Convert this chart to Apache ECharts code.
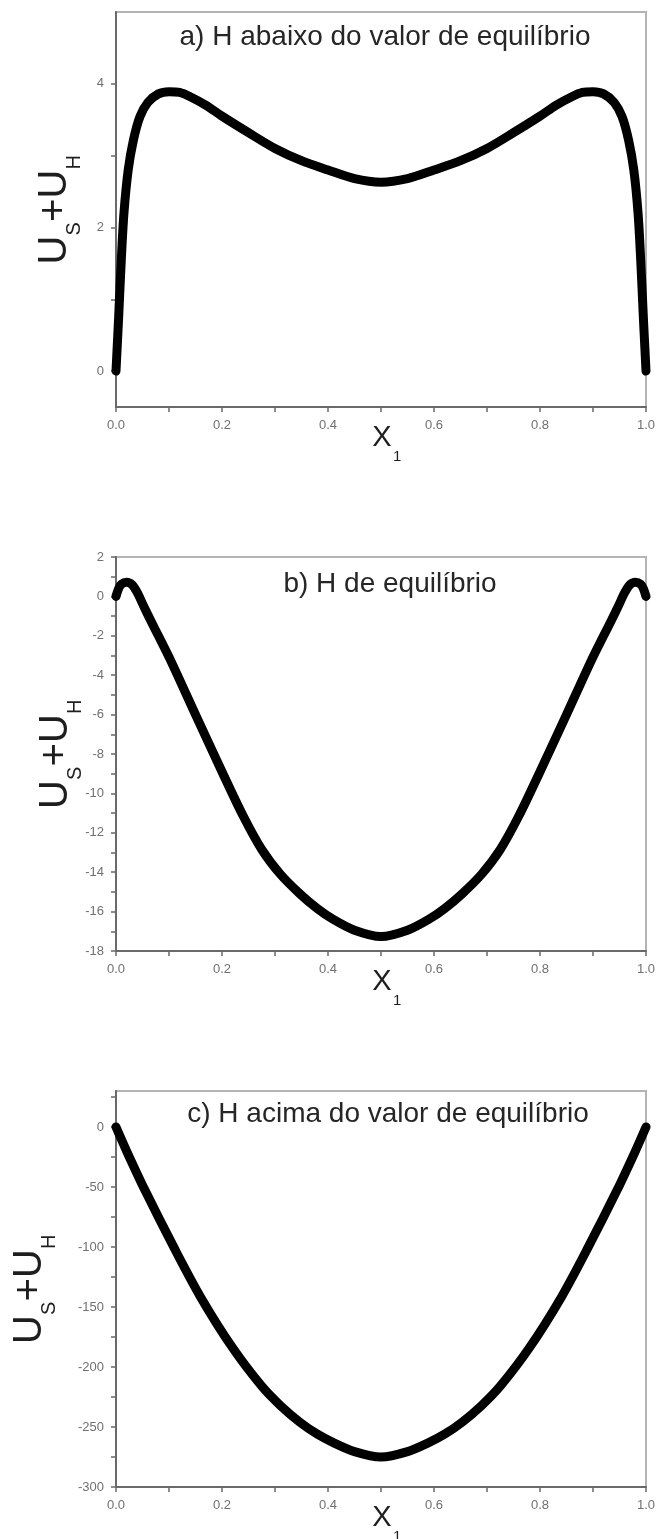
<!DOCTYPE html>
<html>
<head>
<meta charset="utf-8">
<script src="https://cdn.jsdelivr.net/npm/echarts@6/dist/echarts.min.js"></script>
<style>
  html, body { margin: 0; padding: 0; background: #ffffff; }
  #chart { width: 659px; height: 1539px; }
</style>
</head>
<body>
<div id="chart"></div>
<script>
// Panel a) H below the equilibrium value
const xA = [0, 0.002, 0.005, 0.01, 0.015, 0.023, 0.033, 0.045, 0.06, 0.08,
            0.1, 0.12, 0.14, 0.17, 0.2, 0.25, 0.3, 0.35, 0.4, 0.45,
            0.5,
            0.55, 0.6, 0.65, 0.7, 0.75, 0.8, 0.83, 0.86, 0.88, 0.9,
            0.92, 0.94, 0.955, 0.967, 0.977, 0.985, 0.99, 0.995, 0.998, 1];
const yA = [0, 0.3, 0.75, 1.55, 2.2, 2.8, 3.22, 3.54, 3.74, 3.86,
            3.89, 3.88, 3.82, 3.7, 3.55, 3.32, 3.1, 2.93, 2.8, 2.68,
            2.63,
            2.68, 2.8, 2.93, 3.1, 3.32, 3.55, 3.7, 3.82, 3.88, 3.89,
            3.86, 3.74, 3.54, 3.22, 2.8, 2.2, 1.55, 0.75, 0.3, 0];

// Panel b) equilibrium H
const xB = [0, 0.005, 0.01, 0.02, 0.03, 0.04, 0.052, 0.065, 0.08, 0.105,
            0.15, 0.2, 0.24, 0.275, 0.31, 0.347, 0.38, 0.41, 0.45,
            0.5,
            0.55, 0.59, 0.62, 0.653, 0.69, 0.725, 0.76, 0.8, 0.85,
            0.895, 0.92, 0.935, 0.948, 0.96, 0.97, 0.98, 0.99, 0.995, 1];
const yB = [0, 0.4, 0.62, 0.72, 0.6, 0.2, -0.48, -1.2, -2.0, -3.36,
            -6.0, -8.9, -11.15, -12.85, -14.1, -15.1, -15.85, -16.4, -16.95,
            -17.27,
            -16.95, -16.4, -15.85, -15.1, -14.1, -12.85, -11.15, -8.9, -6.0,
            -3.36, -2.0, -1.2, -0.48, 0.2, 0.6, 0.72, 0.62, 0.4, 0];

// Panel c) H above the equilibrium value
const xC = [0, 0.02, 0.055, 0.11, 0.16, 0.22, 0.275, 0.31, 0.347, 0.38, 0.41, 0.45,
            0.5,
            0.55, 0.59, 0.62, 0.653, 0.69, 0.725, 0.78, 0.84, 0.89, 0.945, 0.98, 1];
const yC = [0, -20, -53, -101, -142, -184, -216, -232, -246, -256, -263, -270.5,
            -275,
            -270.5, -263, -256, -246, -232, -216, -184, -142, -101, -53, -20, 0];

// Axis ticks and labels
const xTickLabels = ['0.0', '0.2', '0.4', '0.6', '0.8', '1.0'];
const yLabelsA = [0, 2, 4];
const yTicksA = [0, 1, 2, 3, 4];
const yLabelsC = [-300, -250, -200, -150, -100, -50, 0];
const yTicksC = [-300, -275, -250, -225, -200, -175, -150, -125, -100, -75, -50, -25, 0, 25];

const titles = ['a) H abaixo do valor de equilíbrio',
                'b) H de equilíbrio',
                'c) H acima do valor de equilíbrio'];

const FONT = '"Liberation Sans", Arial, Helvetica, sans-serif';
const AXIS_DARK = '#6a6a6a';
const BORDER = '#b4b4b4';

const grids = [
  { left: 116, width: 530, top: 12, height: 395 },
  { left: 116, width: 530, top: 557, height: 394 },
  { left: 116, width: 530, top: 1091, height: 396 }
];

function pairs(xs, ys) { return xs.map((x, i) => [x, ys[i]]); }

function xAxisFor(idx) {
  return {
    type: 'value', gridIndex: idx, min: 0, max: 1, interval: 0.2,
    axisLine: { show: true, onZero: false, lineStyle: { color: AXIS_DARK, width: 2 } },
    axisTick: { show: true, length: 5, lineStyle: { color: AXIS_DARK, width: 1.5 } },
    minorTick: { show: true, splitNumber: 2, length: 5, lineStyle: { color: AXIS_DARK, width: 1.5 } },
    splitLine: { show: false },
    axisLabel: {
      margin: 12, fontSize: 13, color: '#707070', fontFamily: FONT,
      showMinLabel: true, showMaxLabel: true,
      formatter: v => xTickLabels[Math.round(v / 0.2)]
    }
  };
}

function yAxisBase(idx) {
  return {
    type: 'value', gridIndex: idx,
    axisLine: { show: true, onZero: false, lineStyle: { color: AXIS_DARK, width: 2 } },
    axisTick: { show: true, length: 5, lineStyle: { color: AXIS_DARK, width: 1.5 } },
    splitLine: { show: false },
    axisLabel: { margin: 12, fontSize: 13, color: '#707070', fontFamily: FONT,
                 showMinLabel: true, showMaxLabel: true }
  };
}

const yAxes = [
  Object.assign(yAxisBase(0), {
    min: -0.5, max: 5,
    axisTick: { show: true, length: 5, customValues: yTicksA, lineStyle: { color: AXIS_DARK, width: 1.5 } },
    axisLabel: { margin: 12, fontSize: 13, color: '#707070', fontFamily: FONT, customValues: yLabelsA }
  }),
  Object.assign(yAxisBase(1), {
    min: -18, max: 2, interval: 2,
    minorTick: { show: true, splitNumber: 2, length: 5, lineStyle: { color: AXIS_DARK, width: 1.5 } }
  }),
  Object.assign(yAxisBase(2), {
    min: -300, max: 30,
    axisTick: { show: true, length: 5, customValues: yTicksC, lineStyle: { color: AXIS_DARK, width: 1.5 } },
    axisLabel: { margin: 12, fontSize: 13, color: '#707070', fontFamily: FONT, customValues: yLabelsC }
  })
];

function lineSeries(idx, xs, ys) {
  return {
    type: 'line', xAxisIndex: idx, yAxisIndex: idx,
    data: pairs(xs, ys),
    smooth: 0.3,
    showSymbol: false, symbol: 'none',
    lineStyle: { color: '#000000', width: 9, cap: 'round', join: 'round' },
    silent: true, animation: false, z: 3
  };
}

// Rotated "U_S + U_H" label with subscripts
function yNameGroup(cx, cy) {
  const big = 40, small = 20, sub = 19;
  const parts = [
    { t: 'U', s: big, dx: 0, dy: 0 },
    { t: 'S', s: small, dx: 28.9, dy: sub },
    { t: '+', s: big, dx: 42.5, dy: 0 },
    { t: 'U', s: big, dx: 66, dy: 0 },
    { t: 'H', s: small, dx: 95, dy: sub }
  ];
  return {
    type: 'group', x: cx, y: cy + 55, rotation: Math.PI / 2, silent: true,
    children: parts.map(p => ({
      type: 'text', x: p.dx, y: p.dy,
      style: { text: p.t, fontSize: p.s, fontFamily: FONT, fill: '#1e1e1e',
               align: 'left', verticalAlign: 'middle',
               textAlign: 'left', textVerticalAlign: 'middle' }
    }))
  };
}

// "X_1" axis name
function xNameGroup(cx, cy) {
  return {
    type: 'group', x: cx, y: cy, silent: true,
    children: [
      { type: 'text', x: 0, y: 0,
        style: { text: 'X', fontSize: 29, fontFamily: FONT, fill: '#1e1e1e',
                 align: 'center', verticalAlign: 'middle', textAlign: 'center', textVerticalAlign: 'middle' } },
      { type: 'text', x: 11, y: 19,
        style: { text: '1', fontSize: 15, fontFamily: FONT, fill: '#1e1e1e',
                 align: 'left', verticalAlign: 'middle', textAlign: 'left', textVerticalAlign: 'middle' } }
    ]
  };
}

function titleText(cx, cy, text) {
  return {
    type: 'text', x: cx, y: cy, silent: true,
    style: { text: text, fontSize: 28, fontFamily: FONT, fill: '#262626',
             align: 'center', verticalAlign: 'middle', textAlign: 'center', textVerticalAlign: 'middle' }
  };
}

const option = {
  backgroundColor: '#ffffff',
  animation: false,
  grid: grids.map(g => Object.assign({ show: true, borderColor: BORDER, borderWidth: 2,
                                        backgroundColor: 'transparent', containLabel: false }, g)),
  xAxis: [xAxisFor(0), xAxisFor(1), xAxisFor(2)],
  yAxis: yAxes,
  series: [
    lineSeries(0, xA, yA),
    lineSeries(1, xB, yB),
    lineSeries(2, xC, yC)
  ],
  graphic: [
    titleText(385, 37, titles[0]),
    titleText(390, 584, titles[1]),
    titleText(388, 1114, titles[2]),
    yNameGroup(55, 209.5),
    yNameGroup(56, 754),
    yNameGroup(30, 1289),
    xNameGroup(382, 438),
    xNameGroup(382, 982),
    xNameGroup(382, 1518)
  ]
};

const chart = echarts.init(document.getElementById('chart'), null, { renderer: 'canvas' });
chart.setOption(option);
</script>
</body>
</html>
